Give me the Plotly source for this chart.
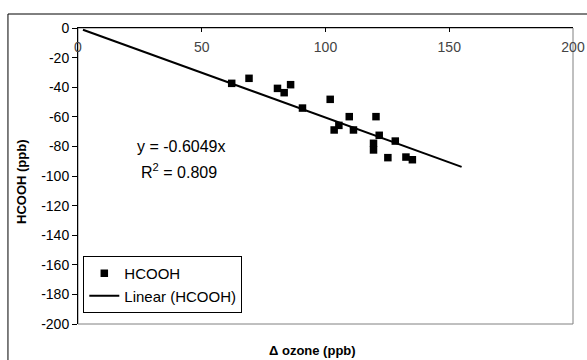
import plotly.graph_objects as go

# ---- data ----
ozone = [62.1, 69.1, 80.6, 83.3, 85.9, 90.7, 101.9, 103.5, 105.4, 109.6,
         111.3, 120.4, 119.4, 119.4, 121.7, 128.2, 125.2, 132.5, 135.1]
hcooh = [-37.4, -34.0, -40.8, -43.7, -38.3, -54.1, -48.2, -68.9, -65.8, -59.9,
         -68.9, -59.9, -77.9, -82.4, -72.5, -76.4, -87.6, -87.2, -89.0]
trend_x = [2, 155]
trend_y = [-1.2, -93.8]
x_ticks = [0, 50, 100, 150, 200]
x_ticklabels = ["0", "50", "100", "150", "200"]
y_ticks = [0, -20, -40, -60, -80, -100, -120, -140, -160, -180, -200]
y_ticklabels = ["0", "-20", "-40", "-60", "-80", "-100", "-120", "-140", "-160", "-180", "-200"]

W, H = 587, 360
L, R, T, B = 78, 572.7, 28, 324
FONT = "Liberation Sans, Arial, sans-serif"

fig = go.Figure()
fig.add_trace(go.Scatter(
    x=ozone, y=hcooh, mode="markers", name="HCOOH",
    marker=dict(symbol="square", size=7.5, color="black", line=dict(width=0)),
))
fig.add_trace(go.Scatter(
    x=trend_x, y=trend_y, mode="lines", name="Linear (HCOOH)",
    line=dict(color="black", width=2),
))

def px2paper_x(px):
    return (px - L) / (R - L)

def px2paper_y(py):
    return (B - py) / (B - T)

fig.update_layout(
    width=W, height=H,
    margin=dict(l=L, r=W - R, t=T, b=H - B, pad=0, autoexpand=False),
    paper_bgcolor="white", plot_bgcolor="white",
    font=dict(family=FONT, size=14, color="black"),
    showlegend=True,
    legend=dict(
        x=px2paper_x(83.3), y=px2paper_y(313), xanchor="left", yanchor="bottom",
        bordercolor="black", borderwidth=1, bgcolor="white",
        font=dict(family=FONT, size=15, color="black"),
        itemwidth=30, tracegroupgap=0,
    ),
    xaxis=dict(
        range=[0, 200], tickvals=x_ticks, ticktext=x_ticklabels, side="top",
        showline=True, linecolor="black", linewidth=1,
        ticks="inside", ticklen=4, tickcolor="black",
        ticklabelposition="inside", ticklabeloverflow="allow",
        ticklabelstandoff=10, automargin=False,
        showgrid=False, zeroline=False,
        tickfont=dict(family=FONT, size=14),
    ),
    yaxis=dict(
        range=[-200, 0], tickvals=y_ticks, ticktext=y_ticklabels,
        showline=True, linecolor="black", linewidth=1,
        ticks="outside", ticklen=5, tickcolor="black",
        ticklabeloverflow="allow", automargin=False,
        showgrid=False, zeroline=False,
        tickfont=dict(family=FONT, size=14),
    ),
    shapes=[
        # gray plot-area frame (right & bottom)
        dict(type="rect", xref="paper", yref="paper", x0=0, x1=1, y0=0, y1=1,
             line=dict(color="#808080", width=1), layer="below"),
        # outer chart border
        dict(type="rect", xref="paper", yref="paper",
             x0=px2paper_x(8), x1=px2paper_x(600), y0=px2paper_y(380), y1=px2paper_y(14),
             line=dict(color="black", width=1), layer="below"),
    ],
    annotations=[
        dict(text="y = -0.6049x", xref="paper", yref="paper",
             x=px2paper_x(181), y=px2paper_y(146), showarrow=False,
             xanchor="center", yanchor="middle",
             font=dict(family=FONT, size=16)),
        dict(text="R<sup>2</sup> = 0.809", xref="paper", yref="paper",
             x=px2paper_x(179), y=px2paper_y(171), showarrow=False,
             xanchor="center", yanchor="middle",
             font=dict(family=FONT, size=16)),
        dict(text="<b>Δ ozone (ppb)</b>", xref="paper", yref="paper",
             x=px2paper_x(312), y=px2paper_y(350), showarrow=False,
             xanchor="center", yanchor="middle",
             font=dict(family=FONT, size=13)),
        dict(text="<b>HCOOH (ppb)</b>", xref="paper", yref="paper",
             x=px2paper_x(21), y=px2paper_y(182), showarrow=False, textangle=-90,
             xanchor="center", yanchor="middle",
             font=dict(family=FONT, size=13)),
    ],
)

fig.write_html("out.html")
